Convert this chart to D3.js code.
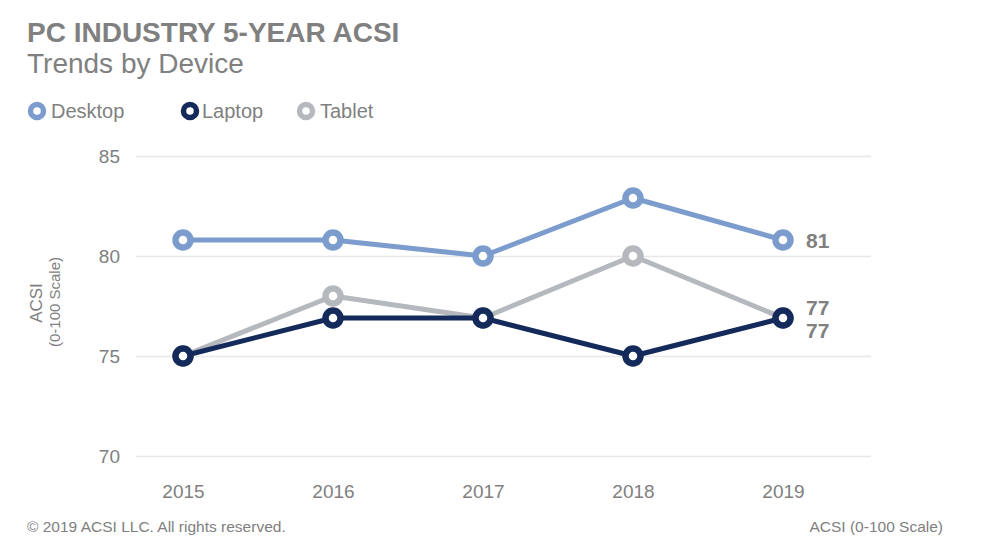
<!DOCTYPE html>
<html>
<head>
<meta charset="utf-8">
<script src="https://cdn.jsdelivr.net/npm/d3@7"></script>
<style>
  body { margin: 0; background: #fff; }
  svg { display: block; font-family: "Liberation Sans", Arial, Helvetica, sans-serif; }
</style>
</head>
<body>
<svg id="chart" width="1000" height="545"></svg>
<script>
// data
var years = ["2015", "2016", "2017", "2018", "2019"];
var desktop = [80.8, 80.8, 80.0, 82.9, 80.8];
var laptop = [75.0, 76.9, 76.9, 75.0, 76.9];
var tablet = [75.0, 78.0, 76.9, 80.0, 76.9];
var yTicks = [70, 75, 80, 85];
var seriesNames = ["Desktop", "Laptop", "Tablet"];

var colors = { Desktop: "#7c9ccd", Laptop: "#132a5a", Tablet: "#b5b9bd" };
var gray = "#808080";

var svg = d3.select("#chart");

var x = d3.scalePoint().domain(years).range([183, 783]);
var y = d3.scaleLinear().domain([70, 85]).range([456, 156]);

// titles
svg.append("text")
    .attr("x", 27).attr("y", 42)
    .attr("font-size", 28).attr("font-weight", "bold")
    .attr("fill", gray)
    .text("PC INDUSTRY 5-YEAR ACSI");
svg.append("text")
    .attr("x", 27).attr("y", 73)
    .attr("font-size", 28)
    .attr("fill", gray)
    .text("Trends by Device");

// legend
var legendX = { Desktop: 37, Laptop: 190, Tablet: 306 };
var legend = svg.append("g").selectAll("g")
    .data(seriesNames)
    .enter().append("g")
    .attr("transform", function(d) { return "translate(" + legendX[d] + ",111)"; });
legend.append("circle")
    .attr("r", 6.5)
    .attr("fill", "#fff")
    .attr("stroke", function(d) { return colors[d]; })
    .attr("stroke-width", 5.5);
legend.append("text")
    .attr("x", function(d) { return d == "Laptop" ? 12 : 14; })
    .attr("y", 7)
    .attr("font-size", 20)
    .attr("fill", gray)
    .text(function(d) { return d; });

// grid + y axis
var yAxis = d3.axisLeft(y)
    .tickValues(yTicks)
    .tickSize(-(871 - 136))
    .tickPadding(16);
var yg = svg.append("g")
    .attr("transform", "translate(136,0)")
    .call(yAxis);
yg.select(".domain").remove();
yg.selectAll(".tick line").attr("stroke", "#e8e8e8").attr("stroke-width", 1.5);
yg.selectAll(".tick text")
    .attr("font-size", 19)
    .attr("fill", gray)
    .attr("font-family", "Liberation Sans, Arial, sans-serif");

// x axis
var xAxis = d3.axisBottom(x).tickSize(0).tickPadding(0);
var xg = svg.append("g")
    .attr("transform", "translate(0,484)")
    .call(xAxis);
xg.select(".domain").remove();
xg.selectAll(".tick text")
    .attr("font-size", 19)
    .attr("fill", gray)
    .attr("dy", "0.75em")
    .attr("font-family", "Liberation Sans, Arial, sans-serif");

// y axis title
svg.append("text")
    .attr("transform", "translate(42,303) rotate(-90)")
    .attr("text-anchor", "middle")
    .attr("font-size", 17)
    .attr("fill", gray)
    .text("ACSI");
svg.append("text")
    .attr("transform", "translate(60,302) rotate(-90)")
    .attr("text-anchor", "middle")
    .attr("font-size", 15)
    .attr("fill", gray)
    .text("(0-100 Scale)");

// lines
var series = [
    { name: "Tablet", values: tablet },
    { name: "Laptop", values: laptop },
    { name: "Desktop", values: desktop }
];

var line = d3.line()
    .x(function(d, i) { return x(years[i]); })
    .y(function(d) { return y(d); });

var sg = svg.append("g").selectAll("g")
    .data(series)
    .enter().append("g");

sg.append("path")
    .attr("d", function(d) { return line(d.values); })
    .attr("fill", "none")
    .attr("stroke", function(d) { return colors[d.name]; })
    .attr("stroke-width", 5)
    .attr("stroke-linejoin", "round");

sg.selectAll("circle")
    .data(function(d) { return d.values.map(function(v, i) { return { name: d.name, v: v, i: i }; }); })
    .enter().append("circle")
    .attr("cx", function(d) { return x(years[d.i]); })
    .attr("cy", function(d) { return y(d.v); })
    .attr("r", 7.5)
    .attr("fill", "#fff")
    .attr("stroke", function(d) { return colors[d.name]; })
    .attr("stroke-width", 6.5);

// end labels
var last = years.length - 1;
var labelOffset = { Desktop: 0, Tablet: -11, Laptop: 12 };
svg.append("g").selectAll("text")
    .data(series)
    .enter().append("text")
    .attr("x", x(years[last]) + 23)
    .attr("y", function(d) { return y(d.values[last]) + labelOffset[d.name]; })
    .attr("dy", "0.36em")
    .attr("font-size", 21)
    .attr("font-weight", "bold")
    .attr("fill", gray)
    .text(function(d) { return d3.format(".0f")(d.values[last]); });

// footer
svg.append("text")
    .attr("x", 27).attr("y", 532)
    .attr("font-size", 15.5)
    .attr("fill", gray)
    .text("\u00a9 2019 ACSI LLC. All rights reserved.");
svg.append("text")
    .attr("x", 943).attr("y", 532)
    .attr("text-anchor", "end")
    .attr("font-size", 15.5)
    .attr("fill", gray)
    .text("ACSI (0-100 Scale)");
</script>
</body>
</html>
